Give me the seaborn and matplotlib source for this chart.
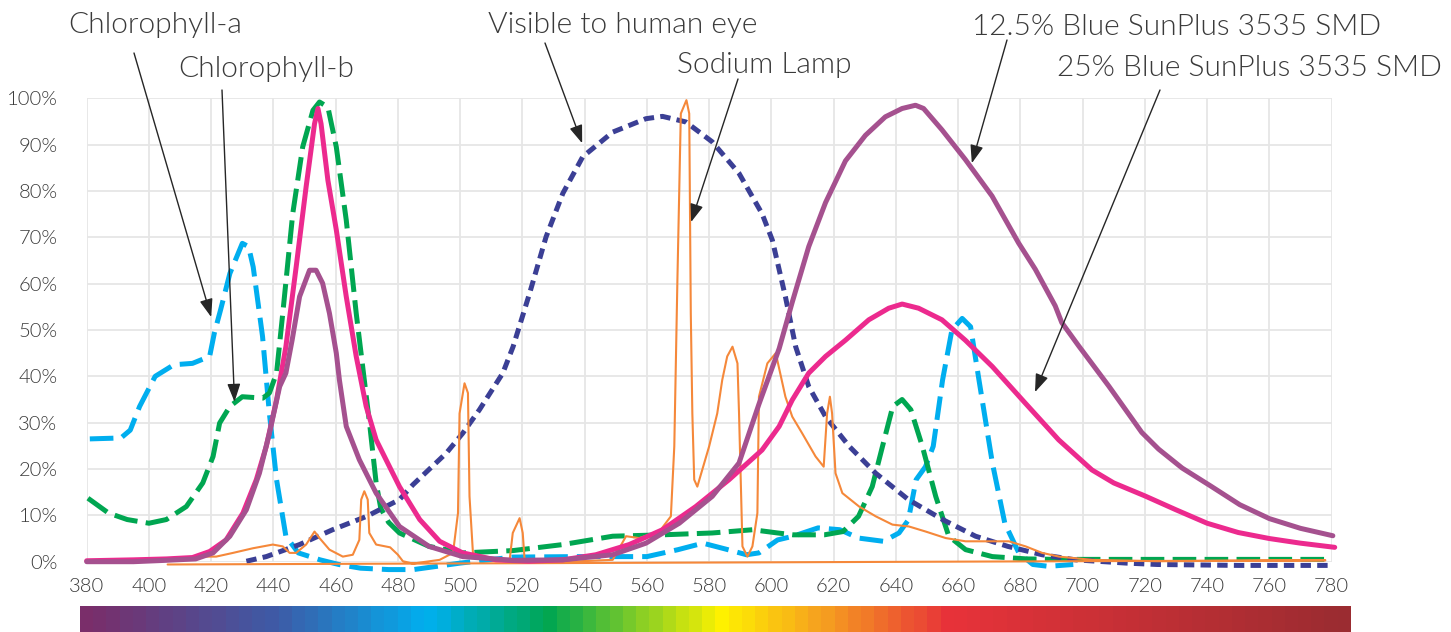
import matplotlib
matplotlib.use("Agg")
import matplotlib.pyplot as plt
from matplotlib.colors import LinearSegmentedColormap, ListedColormap
from matplotlib.ticker import FuncFormatter
import numpy as np
import pandas as pd
import seaborn as sns

# wavelength (nm) / relative intensity (%)

chla_wl = [381, 391, 394, 397, 402, 408, 414, 419.5, 421, 423, 426, 430, 432, 433.5, 436.5,
           438.7, 441, 444, 448, 455, 461, 468, 477, 485, 500, 517, 538, 560, 570, 578, 586,
           592, 596, 602, 607, 615, 622, 628, 636, 641, 644, 646.5, 649.5, 652, 655, 658,
           661.3, 664, 666.7, 671, 675, 679.5, 684, 689, 697]
chla_val = [26.5, 26.7, 28.4, 33.5, 40, 42.5, 42.8, 44.3, 49.3, 54.3, 62.2, 68.7, 68, 63.6, 48.6,
            32, 17.7, 5.5, 1.9, 0.4, -0.6, -1.4, -1.7, -1.7, -0.3, 1.0, 1.1, 1.1, 2.6, 4, 2.6,
            1.5, 1.9, 4.7, 5.5, 7.3, 6.9, 5.1, 4.4, 6.2, 9, 17.7, 20.5, 24.9, 39.2, 50,
            52.5, 50.7, 39.2, 21.3, 8.3, 1.9, -0.6, -1, -0.6]

chlb_wl = [380.4, 387, 393, 400, 405.6, 412, 417.3, 420.6, 422.7, 426, 430, 436.6, 438.7, 441,
           443, 446.2, 449.4, 452.7, 454.8, 457.5, 460.2, 463.4, 466.6, 468.8, 471, 473, 474.5,
           477, 480.5, 490, 501, 517, 533, 549, 565, 581, 594, 602, 607, 617, 623, 628, 632.4,
           635.7, 639, 642, 644.8, 648.5, 652.8, 657, 662.4, 671, 682, 692, 720, 750, 778]
chlb_val = [13.7, 10.5, 9.1, 8.3, 9.1, 11.9, 17, 22.7, 29.9, 33.5, 35.6, 35.3, 36.4, 40.7,
            53.6, 75.1, 89.5, 97.4, 99.2, 98.1, 89.5, 73.7, 53.6, 41.4, 29.2, 17, 11.5,
            8.5, 6.2, 3.3, 1.9, 2.4, 3.7, 5.5, 5.8, 6.2, 6.9, 6.2, 5.8, 5.8, 6.5, 9.8, 16.2,
            24.9, 33.5, 35, 32.8, 24.9, 14.1, 5.5, 2.6, 1.1, 0.6, 0.5, 0.5, 0.5, 0.5]

eye_wl = [431.3, 437.7, 448.4, 459, 470, 480.5, 484.8, 495.5, 500.8, 506.2, 513.7, 517, 522.3,
          527.6, 533, 539.4, 549, 559.7, 565, 572.5, 581, 589.6, 597, 600.3, 604.5, 607.8, 612,
          617.4, 625, 633.5, 644, 655, 665.6, 676, 687, 697.7, 714, 724, 750, 780]
eye_val = [0.1, 1.1, 3.7, 6.9, 9.8, 13.4, 16.6, 23.4, 27.7, 32.8, 40.7, 46.4, 57.9,
           70.1, 79.5, 87.4, 92.7, 95.6, 96.1, 94.9, 90.6, 83.8, 75.1, 69.4, 57.2, 46.4, 37.8,
           31.3, 24.9, 19.1, 13.4, 9.1, 5.5, 3.3, 1.5, 0.4, -0.3, -0.6, -0.8, -0.8]

# sodium lamp trace, in drawing order (it doubles back along the base line)
sodium_wl = [416, 421.6, 427, 433.4, 439.8, 443, 445.2, 447.3, 450.5, 453.2, 454.8, 458, 462.3,
             465.5, 467.6, 468.2, 469.2, 470.3, 470.8, 473, 477.5, 480, 481.6, 484.8, 493.4,
             497.7, 499.3, 499.8, 501.4, 502.5, 503, 504.1, 508.4, 515.9, 516.9, 519.1, 520.1,
             520.7, 527.6, 538.3, 549, 553.3, 557.5, 564, 567.7, 568.8, 569.8, 570.9, 572.7,
             573.6, 574.1, 574.6, 575.2, 576.2, 580, 582.6, 584.2, 585.8, 587.5, 589.1, 589.6,
             590.7, 592.3, 593.9, 595.5, 596, 598.7, 601.4, 604.5, 606.7, 609.9, 614.2, 616.8,
             617.9, 618.8, 619.5, 620.6, 622.8, 628.2, 633.5, 638.9, 644.2, 649.6, 656, 662.4,
             671, 676.3, 681.7, 687, 692.4, 703, 724, 778, 406]
sodium_val = [1.1, 1.1, 1.9, 2.9, 3.7, 3.3, 1.9, 1.9, 3.7, 6.5, 5.1, 2.6, 1.1,
              1.5, 4.7, 13.4, 15.2, 13.4, 6.2, 3.7, 3.1, 1.5, 0.1, -0.4, 0.4,
              1.9, 10.5, 32, 38.5, 36.4, 14.1, 1.9, 0.4, 0.4, 6.2, 9.4, 6.2,
              0.4, 0.1, 0.1, 0.4, 5.5, 5.1, 6.5, 9.8, 24.9, 60.8, 96.7, 99.6,
              96.7, 53.6, 32, 17.7, 16.2, 24.9, 32, 39.2, 44.3, 46.4, 42.8, 32,
              3.3, 1.1, 3.3, 10.5, 35.6, 42.8, 45, 35.6, 31.3, 27.7, 22.7, 20.5,
              32, 35.6, 32, 19.1, 14.8, 11.9, 9.8, 8, 7.6, 6.5, 5.1, 4.4,
              4.4, 4.4, 3.3, 1.9, 1.1, 0.4, 0.1, 0.3, -0.6]

blue25_wl = [380, 395, 405.6, 414, 419.5, 424.8, 430.2, 434.5, 437.7, 441, 444, 447.3, 450.5,
             453.2, 454.3, 455.3, 457.5, 460.2, 463.4, 466.6, 469.8, 473, 477.3, 480.5, 487,
             493.4, 500.8, 511.5, 522, 533, 543.6, 554.3, 565, 575.7, 586.4, 597, 602.5, 606.7,
             612, 617.4, 623.8, 631.3, 637.7, 642, 647.3, 654.8, 662.3, 671, 681.6, 692.3, 703,
             710, 720, 730, 740, 750, 760, 770, 781]
blue25_val = [0.2, 0.4, 0.6, 0.9, 2.2, 4.7, 10.5, 17.7, 24.9, 34.9, 46.4, 63.6, 80.9,
              94.5, 97.8, 94.5, 82.3, 71.6, 57.2, 44.3, 33.5, 26.3, 20.5, 16.2, 9.1,
              4.4, 1.9, 0.4, 0.1, 0.4, 1.5, 3.7, 6.9, 11.9, 17.7, 24.1, 29.2, 34.9,
              40.7, 44.3, 47.8, 52.2, 54.7, 55.6, 54.7, 52.2, 47.8, 42.1, 34.2, 26.3, 19.8,
              17, 14.2, 11.2, 8.3, 6.3, 5, 4, 3.1]

blue125_wl = [380, 395, 405.6, 415, 420.6, 426, 431.3, 435.5, 438.7, 442, 444, 446, 448.4,
              451.6, 453.7, 455.8, 458, 460.2, 461.2, 463.4, 467.6, 473, 480.5, 490, 500.8,
              517, 533, 549, 559.7, 570.4, 581, 589.6, 596, 602.5, 606.7, 612, 617.4, 623.8,
              630.2, 636.6, 642, 646.3, 648.9, 654.8, 662.3, 670.9, 679.4, 684.8, 691.2, 693.3,
              698.7, 708.4, 713.7, 719, 724.4, 732, 741, 750.5, 760, 770, 780.4]
blue125_val = [0, 0, 0.3, 0.6, 1.9, 5.5, 11.2, 19.1, 27.7, 37.8, 40.7, 47.8, 57.2,
               62.9, 62.9, 60.1, 53.6, 45, 39.2, 29.2, 22, 14.8, 7.6, 3.3, 1.1,
               0.3, 0.4, 1.5, 4, 8.3, 14.1, 21.3, 34, 46, 56, 68, 77.5, 86.5,
               92, 96, 97.8, 98.5, 97.8, 93.2, 86.8, 78.9, 68.8, 63.1, 55.2, 51.6,
               46.6, 37.9, 32.9, 27.9, 24.3, 20.2, 16.4, 12.3, 9.3, 7.2, 5.6]

x_ticks = list(range(380, 781, 20))
y_ticks = list(range(0, 101, 10))

labels = ["Chlorophyll-a", "Chlorophyll-b", "Visible to human eye", "Sodium Lamp",
          "12.5% Blue SunPlus 3535 SMD", "25% Blue SunPlus 3535 SMD"]
# label anchor (left, baseline) in figure px from top-left, arrow start px, arrow tip (nm, %)
label_pos = [(68, 33), (178, 77), (488, 33), (677, 73), (972, 35), (1057, 76)]
arrow_from = [(134, 53), (222, 90), (545, 43), (738, 79), (1007, 40), (1160, 90)]
arrow_to = [(420, 52.8), (427.5, 34.5), (539.2, 90.3), (574.2, 73.3), (664.4, 86), (684.7, 36.6)]

spectrum_stops = [(0.0, "#7a2e6a"), (0.152, "#3d5ca8"), (0.271, "#00b0f0"), (0.367, "#00a651"),
                  (0.505, "#fff200"), (0.58, "#f7a51e"), (0.686, "#e8333a"), (1.0, "#9b2c31")]

sns.set_theme(style="whitegrid")
plt.rcParams["font.family"] = ["Lato", "DejaVu Sans"]
plt.rcParams["lines.scale_dashes"] = False

W, H = 1451, 632
fig = plt.figure(figsize=(W / 100, H / 100), dpi=100)
ax = fig.add_axes([86.7 / W, (H - 561.7) / H, (1331.6 - 86.7) / W, (561.7 - 98.3) / H])

series = [
    (chla_wl, chla_val, "#00aeef", 3.6, (0, (17, 6.5))),
    (chlb_wl, chlb_val, "#00a651", 3.6, (0, (17, 6))),
    (eye_wl, eye_val, "#3b3f95", 3.6, (0, (7.5, 4.5))),
    (sodium_wl, sodium_val, "#f5883a", 1.5, "-"),
    (blue25_wl, blue25_val, "#ec2a8e", 3.6, "-"),
    (blue125_wl, blue125_val, "#a5518f", 3.6, "-"),
]
for wl, val, col, lw, ls in series:
    df = pd.DataFrame({"wl": wl, "val": val})
    sns.lineplot(data=df, x="wl", y="val", sort=False, estimator=None, ax=ax,
                 color=col, lw=lw)
    ln = ax.lines[-1]
    ln.set_linestyle(ls)
    ln.set_dash_capstyle("butt")
    ln.set_solid_joinstyle("round")
    ln.set_clip_on(False)

ax.set_xlim(380, 780)
ax.set_ylim(0, 100)
ax.set_xticks(x_ticks)
ax.set_yticks(y_ticks)
ax.yaxis.set_major_formatter(FuncFormatter(lambda v, p: f"{v:.0f}%"))
ax.set_xlabel("")
ax.set_ylabel("")
ax.grid(True, color="#e6e6e6", lw=1.3)
for s in ax.spines.values():
    s.set_visible(False)
ax.tick_params(axis="both", length=0, labelsize=14.5, colors="#3a3a3a")
ax.tick_params(axis="y", pad=21)
ax.tick_params(axis="x", pad=12)
for t in ax.get_xticklabels() + ax.get_yticklabels():
    t.set_fontweight(300)

for text, (tx, ty), (ax0, ay0), tip in zip(labels, label_pos, arrow_from, arrow_to):
    fig.text(tx / W, 1 - ty / H, text, fontsize=21.5, color="#3a3a3a",
             fontweight=300, ha="left", va="baseline")
    ax.annotate("", xy=tip, xycoords="data",
                xytext=(ax0 / W, 1 - ay0 / H), textcoords="figure fraction",
                arrowprops=dict(arrowstyle="-|>,head_length=0.55,head_width=0.2",
                                mutation_scale=20, color="#262626", lw=1,
                                shrinkA=0, shrinkB=0),
                annotation_clip=False)

# colour spectrum strip
base = LinearSegmentedColormap.from_list("spec", spectrum_stops)
steps = ListedColormap(base(np.linspace(0, 1, 96)))
cax = fig.add_axes([80 / W, 0, 1271 / W, 26 / H])
cax.imshow(np.linspace(0, 1, 96)[None, :], cmap=steps, aspect="auto")
cax.set_axis_off()

fig.savefig("out.png", dpi=100)
